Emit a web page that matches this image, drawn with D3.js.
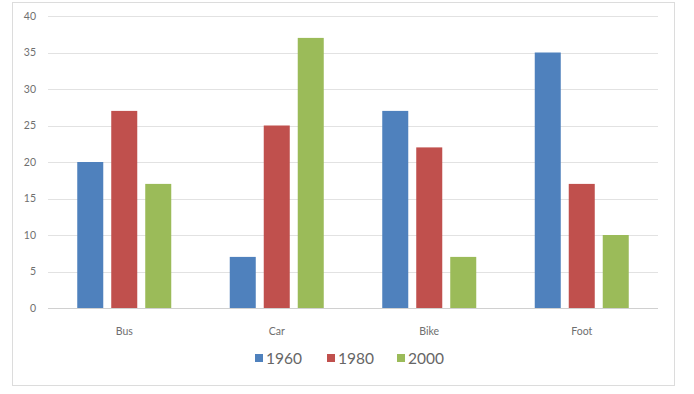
<!DOCTYPE html>
<html>
<head>
<meta charset="utf-8">
<script src="https://cdn.jsdelivr.net/npm/d3@7"></script>
<style>
  body { margin: 0; background: #fff; }
  svg { display: block; font-family: Lato, "Liberation Sans", sans-serif; }
</style>
</head>
<body>
<svg id="chart"></svg>
<script>
// data
const categories = ["Bus", "Car", "Bike", "Foot"];
const years = ["1960", "1980", "2000"];
const v1960 = [20, 7, 27, 35];
const v1980 = [27, 25, 22, 17];
const v2000 = [17, 37, 7, 10];
const yTicks = [0, 5, 10, 15, 20, 25, 30, 35, 40];

const seriesVals = [v1960, v1980, v2000];
const colors = ["#4f81bd", "#c0504d", "#9bbb59"];

const W = 694, H = 394;
const svg = d3.select("#chart").attr("width", W).attr("height", H);

// chart frame
svg.append("rect")
  .attr("x", 12.5).attr("y", 2.5)
  .attr("width", 662).attr("height", 383)
  .attr("fill", "#fff")
  .attr("stroke", "#dcdcdc");

const plot = { left: 48, right: 658, top: 16, bottom: 308 };

const x0 = d3.scaleBand()
  .domain(categories)
  .range([plot.left, plot.right])
  .padding(0);

// 3 bars of 26px with 8px gaps, centred in each category
const x1 = d3.scaleBand()
  .domain(years)
  .range([x0.bandwidth() / 2 - 47, x0.bandwidth() / 2 + 47])
  .paddingInner(0.235)
  .paddingOuter(0);

const y = d3.scaleLinear()
  .domain([0, 40])
  .range([plot.bottom, plot.top]);

// gridlines
svg.append("g")
  .selectAll("line")
  .data(yTicks)
  .join("line")
  .attr("x1", plot.left).attr("x2", plot.right)
  .attr("y1", d => Math.round(y(d)) + 0.5)
  .attr("y2", d => Math.round(y(d)) + 0.5)
  .attr("stroke", d => d === 0 ? "#d0d0d0" : "#e2e2e2");

// y axis labels
const yAxis = d3.axisLeft(y).tickValues(yTicks).tickSize(0).tickPadding(0);
const gy = svg.append("g")
  .attr("transform", `translate(36,0)`)
  .call(yAxis);
gy.select(".domain").remove();
gy.selectAll("text")
  .attr("fill", "#6f6f6f")
  .attr("font-size", 10.5)
  .attr("font-family", "Lato, 'Liberation Sans', sans-serif");

// bars
const rows = [];
categories.forEach((c, i) => {
  years.forEach((yr, j) => {
    rows.push({ cat: c, year: yr, value: seriesVals[j][i], color: colors[j] });
  });
});

svg.append("g")
  .selectAll("rect")
  .data(rows)
  .join("rect")
  .attr("x", d => x0(d.cat) + x1(d.year))
  .attr("y", d => y(d.value))
  .attr("width", x1.bandwidth())
  .attr("height", d => plot.bottom - y(d.value))
  .attr("fill", d => d.color);

// x axis labels
const xAxis = d3.axisBottom(x0).tickSize(0).tickPadding(0);
const gx = svg.append("g")
  .attr("transform", `translate(0,${plot.bottom + 20})`)
  .call(xAxis);
gx.select(".domain").remove();
gx.selectAll("text")
  .attr("fill", "#6f6f6f")
  .attr("font-size", 10.5)
  .attr("font-family", "Lato, 'Liberation Sans', sans-serif");

// legend
const legendX = [255, 327, 397];
const legend = svg.append("g").attr("transform", "translate(0,358)");
years.forEach((yr, j) => {
  const g = legend.append("g").attr("transform", `translate(${legendX[j]},0)`);
  g.append("rect")
    .attr("x", 0).attr("y", -4)
    .attr("width", 8).attr("height", 8)
    .attr("fill", colors[j]);
  g.append("text")
    .attr("x", 11).attr("y", 0)
    .attr("dy", "0.36em")
    .attr("font-size", 15.5)
    .attr("fill", "#666")
    .text(yr);
});
</script>
</body>
</html>
